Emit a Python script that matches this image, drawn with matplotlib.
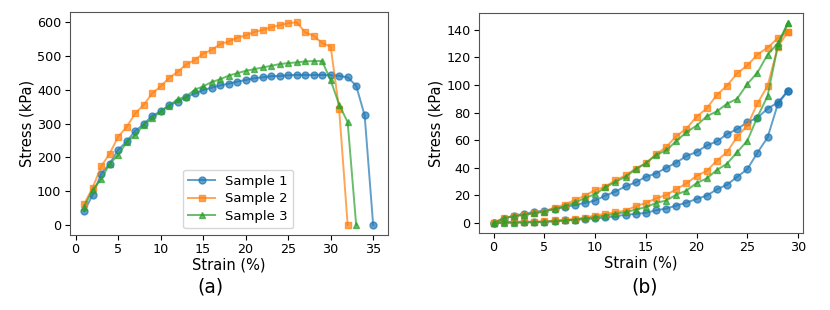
import numpy as np
import matplotlib
matplotlib.use('Agg')
import matplotlib.pyplot as plt

# panel (a): tensile stress vs strain
strain_a1 = np.arange(1, 36)
stress_a1 = [40, 89, 151, 181, 222, 247, 278, 298, 323, 336, 354, 365, 378, 389, 399,
             406, 413, 418, 424, 429, 434, 437, 440, 441, 443, 444, 444, 444, 444, 443,
             441, 437, 412, 324, 0]
strain_a2 = np.arange(1, 33)
stress_a2 = [62, 110, 173, 211, 261, 290, 330, 355, 389, 410, 435, 453, 475, 488, 507,
             518, 535, 543, 554, 561, 571, 577, 585, 591, 597, 600, 570, 560, 538, 528,
             342, 0]
strain_a3 = np.arange(1, 34)
stress_a3 = [54, 104, 135, 181, 207, 245, 266, 296, 315, 336, 353, 372, 380, 400, 410,
             423, 431, 442, 449, 456, 461, 466, 471, 476, 479, 481, 484, 485, 485, 428,
             356, 304, 0]

# panel (b): cyclic loading, upper and lower branches
strain_b = np.arange(0, 30)
b1_upper = [0, 3, 5.5, 6.7, 8, 9.1, 10.3, 11.5, 13.2, 14.6, 16.3, 19.9, 22.8, 26.6, 29.5,
            33.5, 35.9, 40, 43.8, 48.6, 51.4, 56.2, 59.1, 64.4, 68, 73, 76.3, 82.8, 87.3, 95.7]
b1_lower = [0, 0.5, 0.5, 0.7, 0.8, 1, 1.4, 2, 2.4, 2.9, 3.4, 4.1, 5, 6, 6.7,
            7.4, 9.3, 10.5, 12.7, 14.8, 17.5, 19.9, 24.4, 27.8, 33.5, 39, 51, 62, 86, 95.7]
b2_upper = [0, 3.8, 5, 6, 7.2, 8.4, 11.2, 13.4, 16.7, 19.9, 23.9, 26.3, 31.1, 34.5, 39.5,
            43.3, 49.8, 55, 62.9, 68.4, 77, 83, 92.8, 99.5, 108.4, 114.1, 122, 127, 133.8, 138.5]
b2_lower = [0, 0.7, 0.9, 1, 1.1, 1.2, 1.9, 2.4, 3.1, 4, 5.5, 6.7, 7.9, 9, 12.2,
            14.6, 17.9, 20.3, 24.6, 28.7, 34.2, 37.8, 45.2, 51.4, 62.4, 70.6, 86.6, 99.3, 127.5, 138.5]
b3_upper = [0, 3.6, 5, 6, 7.2, 8.4, 10.3, 12.2, 15, 18, 21, 25.8, 29.9, 33.5, 39,
            43.3, 49.3, 52.6, 59.3, 65.8, 70.6, 77.3, 80.9, 86.4, 90, 100.7, 108.9, 122, 130, 144.8]
b3_lower = [0, 0.3, 0.4, 0.5, 0.7, 1, 1.4, 1.9, 2.6, 3.4, 4.3, 5.5, 6.7, 7.9, 9.8,
            11.5, 14.6, 16.3, 20.6, 23.5, 29, 32.3, 38.5, 43, 51.4, 59.6, 76.8, 92, 128, 144.8]

labels = ['Sample 1', 'Sample 2', 'Sample 3']
colors = ['tab:blue', 'tab:orange', 'tab:green']
markers = ['o', 's', '^']

fig = plt.figure(figsize=(8.3, 3.1), dpi=100)
ax1 = fig.add_axes([0.084, 0.242, 0.383, 0.719])
ax2 = fig.add_axes([0.577, 0.248, 0.390, 0.710])

for x, y, lab, c, m in zip([strain_a1, strain_a2, strain_a3],
                           [stress_a1, stress_a2, stress_a3], labels, colors, markers):
    ax1.plot(x, y, marker=m, color=c, label=lab, ms=5, lw=1.4, alpha=0.7)

for up, low, c, m in zip([b1_upper, b2_upper, b3_upper], [b1_lower, b2_lower, b3_lower],
                         colors, markers):
    ax2.plot(strain_b, up, marker=m, color=c, ms=5, lw=1.4, alpha=0.7)
    ax2.plot(strain_b, low, marker=m, color=c, ms=5, lw=1.4, alpha=0.7)

ax1.set_xticks([0, 5, 10, 15, 20, 25, 30, 35])
ax1.set_yticks([0, 100, 200, 300, 400, 500, 600])
ax2.set_xticks([0, 5, 10, 15, 20, 25, 30])
ax2.set_yticks([0, 20, 40, 60, 80, 100, 120, 140])

for ax in (ax1, ax2):
    ax.set_xlabel('Strain (%)', fontsize=10.5, labelpad=1)
    ax.set_ylabel('Stress (kPa)', fontsize=10.5, labelpad=2)
    ax.tick_params(labelsize=9.2, pad=2.5)
    for s in ax.spines.values():
        s.set_color('#555555')

ax1.legend(loc='lower center', fontsize=9.5, handlelength=2.0, labelspacing=0.35,
           bbox_to_anchor=(0.53, 0.0))

fig.text(0.253, 0.074, '(a)', fontsize=13.5, ha='center', va='center')
fig.text(0.777, 0.074, '(b)', fontsize=13.5, ha='center', va='center')

plt.savefig('out.png', dpi=100)
plt.close()
